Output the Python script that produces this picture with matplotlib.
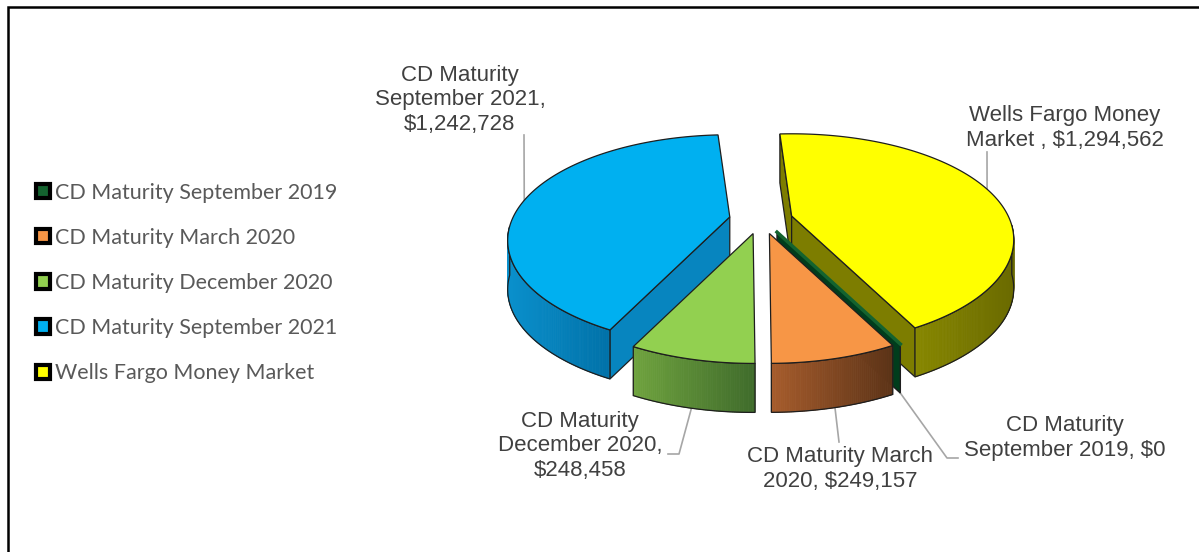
import numpy as np
import matplotlib.pyplot as plt
from matplotlib.patches import Polygon, Patch
from matplotlib.colors import to_rgb

# data (legend order = drawing order, clockwise from the first slice angle)
labels = ["CD Maturity September 2019", "CD Maturity March 2020",
          "CD Maturity December 2020", "CD Maturity September 2021",
          "Wells Fargo Money Market"]
values = [0, 249157, 248458, 1242728, 1294562]
data_labels = ["CD Maturity\nSeptember 2019, $0",
               "CD Maturity March\n2020, $249,157",
               "CD Maturity\nDecember 2020,\n$248,458",
               "CD Maturity\nSeptember 2021,\n$1,242,728",
               "Wells Fargo Money\nMarket , $1,294,562"]
top_colors = ["#14632F", "#F79646", "#92D050", "#00B0F0", "#FFFF00"]
wall_light = ["#003D1C", "#A65C2C", "#6FA33E", "#0A90CC", "#878700"]
wall_dark = ["#002812", "#5C3317", "#3F6B2B", "#0071A8", "#6A6A00"]

# layout in pixels
W, H = 1199, 552
cx, cy_rim, cy_apex = 761, 229, 220
R, Ry, depth = 220, 106, 49
persp = 0.14          # front of the pie drawn larger than the back
ex, ey = 32, 14
first_angle = 150
edge = "#1E1E1E"

label_xy = [(1065, 438), (840, 469), (580, 446), (460, 100), (1065, 128)]
leader_via = [[(947, 458), (958, 458)], [(839, 442)], [(679, 454), (668, 454)],
              [(524, 135)], [(987, 152)]]


def rim(theta, ox, oy, drop=0.0):
    t = np.radians(theta)
    s = 1 - persp * np.cos(t)
    return cx + ox + R * s * np.sin(t), cy_rim + oy - Ry * s * np.cos(t) + drop


def mix(c1, c2, f):
    a, b = np.array(to_rgb(c1)), np.array(to_rgb(c2))
    return tuple(a + (b - a) * f)


fig = plt.figure(figsize=(W / 100, H / 100), dpi=100)
ax = fig.add_axes([0, 0, 1, 1])
ax.set_xlim(0, W)
ax.set_ylim(H, 0)
ax.axis("off")

total = sum(values)
starts = first_angle + 360 * np.concatenate([[0], np.cumsum(values)[:-1]]) / total
spans = 360 * np.array(values) / total
mids = starts + spans / 2

anchors = []
order = sorted(range(len(values)), key=lambda i: -np.cos(np.radians(mids[i])))
for i in order:
    a, b, m = starts[i], starts[i] + spans[i], np.radians(mids[i])
    ox, oy = ex * np.sin(m), -ey * np.cos(m)
    apex = (cx + ox, cy_apex + oy)
    apex_lo = (apex[0], apex[1] + depth)

    if spans[i] == 0:
        p, q = rim(a, ox, oy), rim(a, ox, oy, depth)
        ax.add_patch(Polygon([apex, p, q, apex_lo], closed=True,
                             fc=wall_light[i], ec=edge, lw=1.0, zorder=2))
        ax.plot([apex[0], p[0]], [apex[1], p[1]], color=top_colors[i], lw=2.5, zorder=2)
        anchors.append((i, rim(a, ox, oy, depth)))
        continue

    ts = np.linspace(a, b, max(int(spans[i] * 2), 4))
    # radial cut faces that face the viewer
    for ang, nrm in ((a, a - 90), (b, b + 90)):
        if np.cos(np.radians(nrm)) < -0.01:
            p, q = rim(ang, ox, oy), rim(ang, ox, oy, depth)
            ax.add_patch(Polygon([apex, p, q, apex_lo], closed=True,
                                 fc=mix(wall_light[i], wall_dark[i], 0.35),
                                 ec=edge, lw=0.9, zorder=2))
    # outer curved wall (front part only)
    front = ts[np.cos(np.radians(ts)) < 0]
    if len(front) > 1:
        xs_t, ys_t = rim(front, ox, oy)
        xs_b, ys_b = rim(front, ox, oy, depth)
        x0, x1 = xs_t.min(), xs_t.max()
        for k in range(len(front) - 1):
            f = ((xs_t[k] + xs_t[k + 1]) / 2 - x0) / max(x1 - x0, 1)
            col = mix(wall_light[i], wall_dark[i], f)
            ax.add_patch(Polygon([(xs_t[k], ys_t[k]), (xs_t[k + 1], ys_t[k + 1]),
                                  (xs_b[k + 1], ys_b[k + 1]), (xs_b[k], ys_b[k])],
                                 closed=True, fc=col, ec=col, lw=0.6, zorder=2))
        outline = list(zip(xs_t, ys_t)) + list(zip(xs_b[::-1], ys_b[::-1]))
        ax.add_patch(Polygon(outline, closed=True, fc="none", ec=edge, lw=0.9, zorder=2))
    # top face
    xs, ys = rim(ts, ox, oy)
    ax.add_patch(Polygon([apex] + list(zip(xs, ys)), closed=True,
                         fc=top_colors[i], ec=edge, lw=0.9, zorder=2))

    if np.cos(m) < 0:
        anchors.append((i, rim(mids[i], ox, oy, depth)))
    else:
        # label above the pie: leader drops straight onto the back rim
        back = ts[np.cos(np.radians(ts)) > 0]
        bx, by = rim(back, ox, oy)
        j = np.argmin(np.abs(bx - leader_via[i][-1][0]))
        anchors.append((i, (bx[j], by[j])))

# data labels with leader lines
for i, pt in anchors:
    pts = [pt] + leader_via[i]
    ax.plot([p[0] for p in pts], [p[1] for p in pts], color="#A6A6A6", lw=1.2, zorder=1)
    ax.text(label_xy[i][0], label_xy[i][1], data_labels[i], ha="center", va="center",
            fontsize=16, family="Liberation Sans", color="#404040",
            linespacing=1.2, zorder=3)

# legend
handles = [Patch(facecolor=c, edgecolor="black", linewidth=3, joinstyle="round")
           for c in top_colors]
ax.legend(handles, labels, loc="center left", bbox_to_anchor=(36 / W, 1 - 283 / H),
          frameon=False, prop={"family": "Lato", "size": 15.5}, labelcolor="#595959",
          handlelength=0.65, handleheight=0.65, handletextpad=0.25,
          labelspacing=1.17, borderpad=0, borderaxespad=0)

# chart frame (only left and top edges fall inside the picture)
ax.plot([8, 8, W], [H, 7, 7], color="black", lw=1.8, solid_joinstyle="miter")

fig.savefig("out.png", dpi=100)
